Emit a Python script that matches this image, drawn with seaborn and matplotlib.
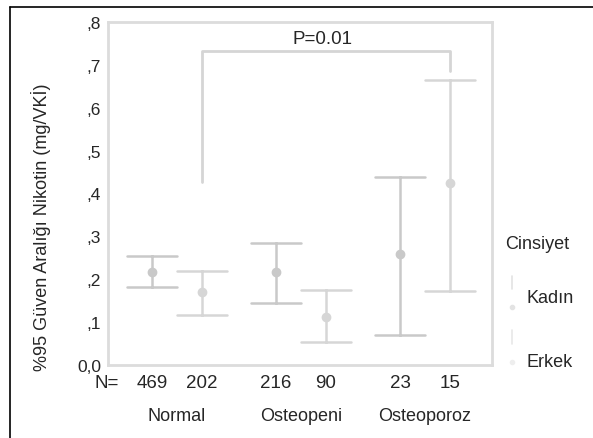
import pandas as pd
import matplotlib
matplotlib.use("Agg")
import matplotlib.pyplot as plt
from matplotlib.lines import Line2D
from matplotlib.transforms import blended_transform_factory
import seaborn as sns

# Veriler
groups = ["Normal", "Osteopeni", "Osteoporoz"]
sexes = ["Kadın", "Erkek"]
n_kadin = [469, 216, 23]
n_erkek = [202, 90, 15]
mean_kadin = [0.218, 0.216, 0.259]
lo_kadin = [0.183, 0.145, 0.071]
hi_kadin = [0.255, 0.284, 0.438]
mean_erkek = [0.170, 0.113, 0.424]
lo_erkek = [0.116, 0.054, 0.173]
hi_erkek = [0.220, 0.175, 0.665]
ytick_labels = ["0,0", ",1", ",2", ",3", ",4", ",5", ",6", ",7", ",8"]
p_text = "P=0.01"

# alt, orta, ust degerleri uzun tabloya koy -> medyan = ortalama, min/max = GA
rows = []
for i, g in enumerate(groups):
    for v in (lo_kadin[i], mean_kadin[i], hi_kadin[i]):
        rows.append({"grup": g, "cinsiyet": "Kadın", "deger": v})
    for v in (lo_erkek[i], mean_erkek[i], hi_erkek[i]):
        rows.append({"grup": g, "cinsiyet": "Erkek", "deger": v})
df = pd.DataFrame(rows)

sns.set_style("white")
plt.rcParams["font.family"] = ["Liberation Sans", "DejaVu Sans"]

fig = plt.figure(figsize=(5.93, 4.39), dpi=100)
ax = fig.add_axes([0.1821, 0.1663, 0.6476, 0.7813])

sns.pointplot(data=df, x="grup", y="deger", hue="cinsiyet", order=groups, hue_order=sexes,
              estimator="median", errorbar=lambda v: (v.min(), v.max()),
              dodge=0.4, linestyles="none", markers="o", capsize=0.4,
              palette={"Kadın": "#c9c9c9", "Erkek": "#d6d6d6"},
              err_kws={"linewidth": 1.8}, markersize=5, legend=False, ax=ax)

ax.set_xlim(-0.556, 2.54)
ax.set_ylim(0, 0.8)
ax.set_yticks([i / 10 for i in range(9)])
ax.set_yticklabels(ytick_labels, fontsize=12.5)
ax.set_xticks([])
ax.set_xlabel("")
ax.set_ylabel("%95 Güven Aralığı Nikotin (mg/VKİ)", fontsize=13)
ax.yaxis.set_label_coords(-0.148, 0.405)
ax.tick_params(axis="y", length=3, color="#dddddd", pad=2)
for s in ax.spines.values():
    s.set_visible(True)
    s.set_color("#dcdcdc")
    s.set_linewidth(2)

# N sayilari ve grup adlari
tr = blended_transform_factory(ax.transData, ax.transAxes)
ax.text(-0.565, -0.05, "N=", transform=tr, ha="center", va="center", fontsize=13.5)
for i, g in enumerate(groups):
    ax.text(i - 0.2, -0.05, str(n_kadin[i]), transform=tr, ha="center", va="center", fontsize=13.5)
    ax.text(i + 0.2, -0.05, str(n_erkek[i]), transform=tr, ha="center", va="center", fontsize=13.5)
    ax.text(i, -0.148, g, transform=tr, ha="center", va="center", fontsize=13)

# P degeri koseli cizgi
ax.plot([0.2, 0.2, 2.2, 2.2], [0.427, 0.733, 0.733, 0.686], color="#d5d5d5", lw=2, clip_on=False)
ax.text(1.17, 0.762, p_text, ha="center", va="center", fontsize=13.5)

# lejant
fig.text(0.852, 0.442, "Cinsiyet", ha="left", va="center", fontsize=13)
fig.text(0.888, 0.321, "Kadın", ha="left", va="center", fontsize=13)
fig.text(0.888, 0.175, "Erkek", ha="left", va="center", fontsize=13)
fig.add_artist(Line2D([0.863, 0.863], [0.34, 0.37], color="#e3e3e3", lw=1.2))
fig.add_artist(Line2D([0.863], [0.298], marker="o", ms=3, color="#e3e3e3"))
fig.add_artist(Line2D([0.863, 0.863], [0.215, 0.245], color="#e8e8e8", lw=1.2))
fig.add_artist(Line2D([0.863], [0.173], marker="o", ms=3, color="#eeeeee"))

# cerceve (ust ve sol)
fig.add_artist(Line2D([0.017, 1.0], [0.982, 0.982], color="black", lw=1.2))
fig.add_artist(Line2D([0.017, 0.017], [0.0, 0.982], color="black", lw=1.2))

fig.savefig("out.png", dpi=100)
